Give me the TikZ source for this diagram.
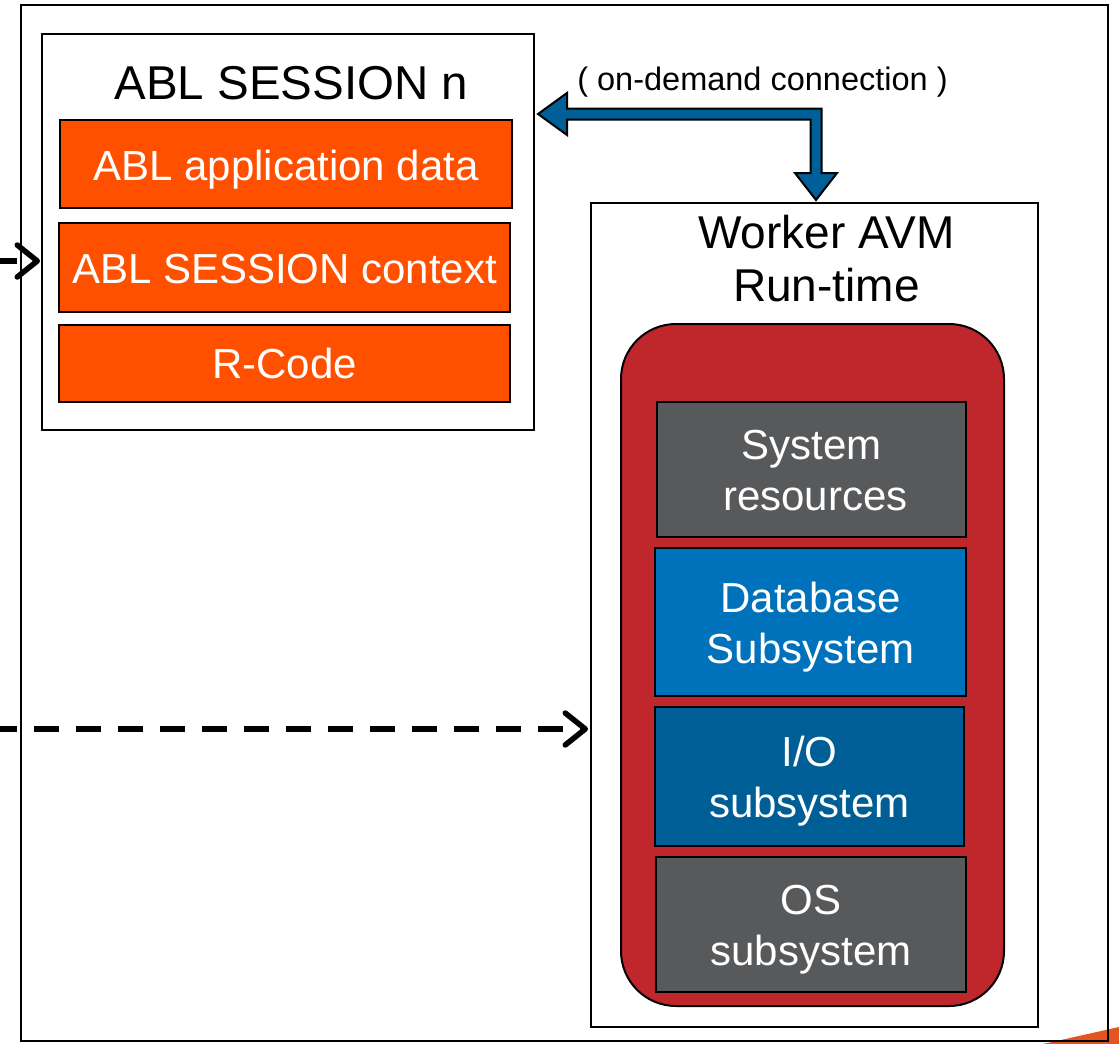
\documentclass[tikz,border=0pt]{standalone}
\usepackage{fontspec}
\setmainfont{Liberation Sans}
\usetikzlibrary{arrows.meta,calc}
\definecolor{ablorange}{RGB}{255,80,0}
\definecolor{avmred}{RGB}{192,39,45}
\definecolor{sysgray}{RGB}{88,89,91}
\definecolor{dbblue}{RGB}{0,114,188}
\definecolor{ioblue}{RGB}{0,94,150}
\definecolor{arrowblue}{RGB}{0,95,152}
\definecolor{cornerorange}{RGB}{228,84,32}
\tikzset{
  box/.style={draw=black, line width=2pt, inner sep=0pt, outer sep=0pt},
  framebox/.style={box, line width=2.5pt},
  abox/.style={box, fill=ablorange},
  subbox/.style={box, line width=2.2pt},
  lbl/.style={anchor=base, inner sep=0pt, font=\fontsize{42}{50}\selectfont},
  wlbl/.style={lbl, text=white},
  title/.style={anchor=base, inner sep=0pt, font=\fontsize{47.5}{52}\selectfont},
  wtitle/.style={anchor=base, inner sep=0pt, font=\fontsize{46}{52}\selectfont},
  small/.style={anchor=base, inner sep=0pt, font=\fontsize{32.5}{36}\selectfont},
  fatarrow/.style={draw=black, line width=2pt, fill=arrowblue, line join=miter},
  dasharrow/.style={draw=black, line width=5.5pt, dash pattern=on 25pt off 17pt,
    -{Straight Barb[length=20pt, width=32pt, line width=5.5pt, line cap=round, line join=round]}}
}
\begin{document}
\begin{tikzpicture}[x=1pt, y=-1pt]
\useasboundingbox (0,0) rectangle (1119,1044);
% corner decoration
\fill[cornerorange] (1043,1044) -- (1119,1027) -- (1119,1044) -- cycle;
% outer frame
\node[framebox, minimum width=1087pt, minimum height=1036pt] (frame) at (564.5,523) {};
% ABL session
\node[box, fill=white, minimum width=492pt, minimum height=396pt] (session) at (288,232) {};
\node[title] (sessiont) at ($(session.north)+(3.5,65)$) {ABL SESSION n};
\node[abox, minimum width=452pt, minimum height=88pt] (app) at (286,164) {};
\node[wlbl] (appt) at ($(app.center)+(0,16)$) {ABL application data};
\node[abox, minimum width=451pt, minimum height=89pt] (ctx) at (284.5,267.5) {};
\node[wlbl] (ctxt) at ($(ctx.center)+(0,16)$) {ABL SESSION context};
\node[abox, minimum width=451pt, minimum height=77pt] (rcode) at (284.5,363.5) {};
\node[wlbl] (rcodet) at ($(rcode.center)+(0,15)$) {R-Code};
% Worker AVM
\node[box, fill=white, minimum width=447pt, minimum height=824pt] (worker) at (814.5,615) {};
\node[wtitle] (workert1) at ($(worker.north)+(12,45)$) {Worker AVM};
\node[wtitle] (workert2) at ($(worker.north)+(12,98)$) {Run-time};
\node[box, fill=avmred, rounded corners=55pt, minimum width=383pt, minimum height=682pt] (runtime) at (812.5,665) {};
\node[subbox, fill=sysgray, minimum width=309pt, minimum height=135pt] (sys) at (811.5,469.5) {};
\node[wlbl] (syst1) at ($(sys.center)+(0,-10)$) {System};
\node[wlbl] (syst2) at ($(sys.center)+(4,41)$) {resources};
\node[subbox, fill=dbblue, minimum width=311pt, minimum height=148pt] (db) at (810.5,622) {};
\node[wlbl] (dbt1) at ($(db.center)+(0,-10)$) {Database};
\node[wlbl] (dbt2) at ($(db.center)+(0,41)$) {Subsystem};
\node[subbox, fill=ioblue, minimum width=309pt, minimum height=139pt] (io) at (809.5,776.5) {};
\node[wlbl] (iot1) at ($(io.center)+(0,-10)$) {I/O};
\node[wlbl] (iot2) at ($(io.center)+(0,41)$) {subsystem};
\node[subbox, fill=sysgray, minimum width=310pt, minimum height=135pt] (os) at (811,924.5) {};
\node[wlbl] (ost1) at ($(os.center)+(0,-10)$) {OS};
\node[wlbl] (ost2) at ($(os.center)+(0,41)$) {subsystem};
% on-demand connection arrow
\coordinate (ltip) at ($(session.north east)+(4,80)$);
\coordinate (dtip) at ($(worker.north west)+(225,-3)$);
\coordinate (bend) at (dtip |- ltip);
\draw[fatarrow] (ltip) -- ($(ltip)+(29,-21)$) -- ($(ltip)+(29,-5.5)$)
  -- ($(bend)+(5.5,-5.5)$) -- ($(dtip)+(5.5,-27)$) -- ($(dtip)+(21,-27)$)
  -- (dtip) -- ($(dtip)+(-21,-27)$) -- ($(dtip)+(-5.5,-27)$)
  -- ($(bend)+(-5.5,5.5)$) -- ($(ltip)+(29,5.5)$) -- ($(ltip)+(29,21)$) -- cycle;
\node[small] (conn) at (762.5,90) {( on-demand connection )};
% incoming dashed arrows
\coordinate (in1) at (-8,261);
\coordinate (in2) at (-8,729);
\draw[dasharrow] (in1) -- ($(session.west |- in1)+(-2,0)$);
\draw[dasharrow] (in2) -- ($(worker.west |- in2)+(-3,0)$);
\end{tikzpicture}
\end{document}
